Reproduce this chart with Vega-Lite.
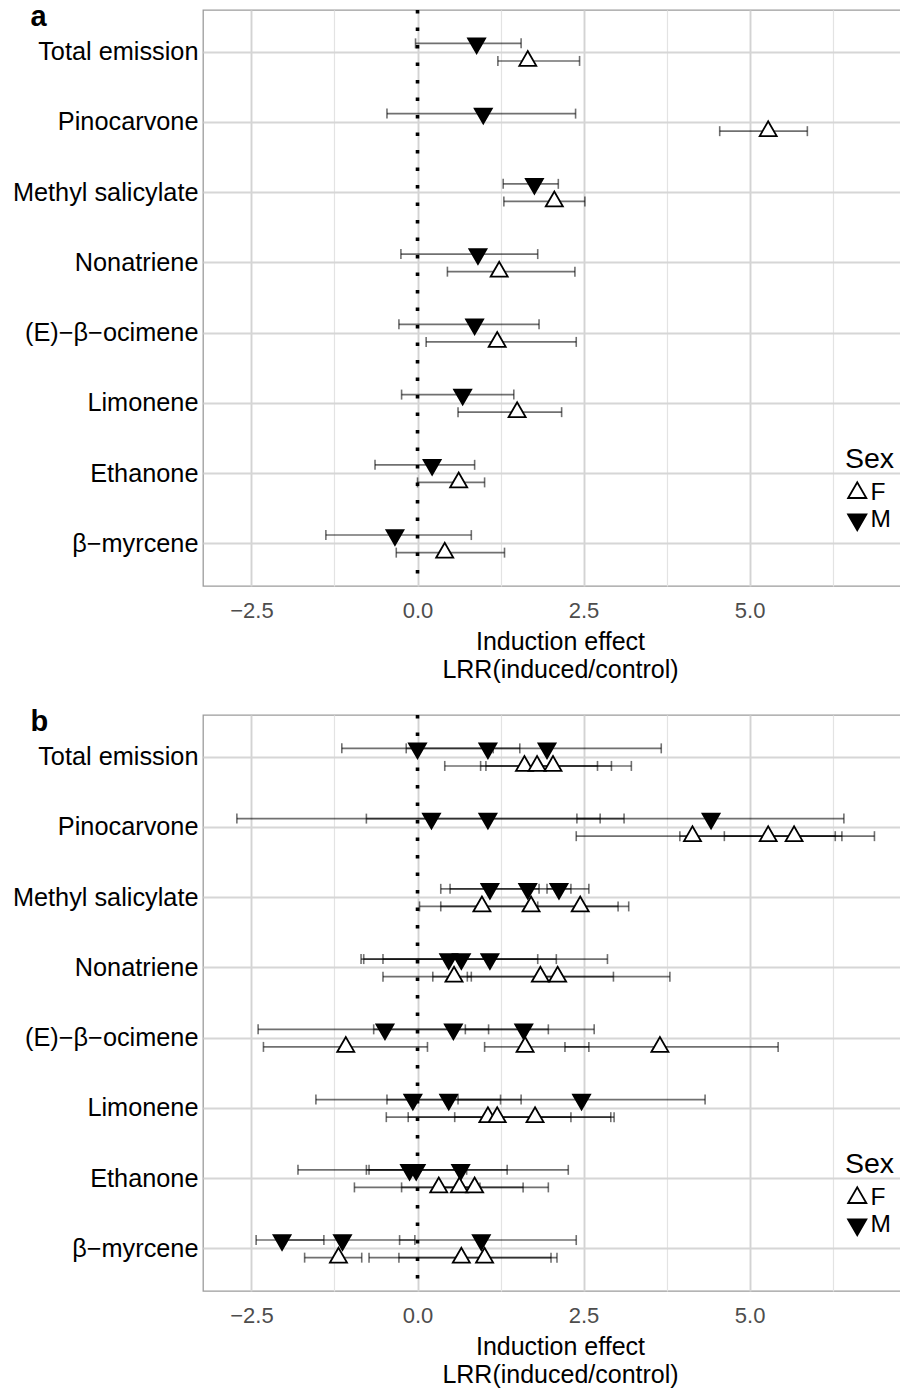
{
  "$schema": "https://vega.github.io/schema/vega-lite/v6.json",
  "background": "white",
  "padding": {"left": 11, "top": 1, "right": 0, "bottom": 0},
  "spacing": 23,
  "datasets": {
    "a": [
      {"compound": "Total emission", "sex": "M", "lrr": 0.89, "lo": -0.03, "hi": 1.56},
      {"compound": "Total emission", "sex": "F", "lrr": 1.66, "lo": 1.21, "hi": 2.44},
      {"compound": "Pinocarvone", "sex": "M", "lrr": 0.99, "lo": -0.46, "hi": 2.38},
      {"compound": "Pinocarvone", "sex": "F", "lrr": 5.28, "lo": 4.55, "hi": 5.87},
      {"compound": "Methyl salicylate", "sex": "M", "lrr": 1.76, "lo": 1.29, "hi": 2.12},
      {"compound": "Methyl salicylate", "sex": "F", "lrr": 2.06, "lo": 1.30, "hi": 2.52},
      {"compound": "Nonatriene", "sex": "M", "lrr": 0.91, "lo": -0.25, "hi": 1.81},
      {"compound": "Nonatriene", "sex": "F", "lrr": 1.23, "lo": 0.45, "hi": 2.37},
      {"compound": "(E)−β−ocimene", "sex": "M", "lrr": 0.86, "lo": -0.28, "hi": 1.83},
      {"compound": "(E)−β−ocimene", "sex": "F", "lrr": 1.20, "lo": 0.13, "hi": 2.39},
      {"compound": "Limonene", "sex": "M", "lrr": 0.68, "lo": -0.24, "hi": 1.45},
      {"compound": "Limonene", "sex": "F", "lrr": 1.50, "lo": 0.61, "hi": 2.17},
      {"compound": "Ethanone", "sex": "M", "lrr": 0.22, "lo": -0.64, "hi": 0.86},
      {"compound": "Ethanone", "sex": "F", "lrr": 0.62, "lo": 0.00, "hi": 1.01},
      {"compound": "β−myrcene", "sex": "M", "lrr": -0.34, "lo": -1.38, "hi": 0.81},
      {"compound": "β−myrcene", "sex": "F", "lrr": 0.41, "lo": -0.32, "hi": 1.31}
    ],
    "b": [
      {"compound": "Total emission", "sex": "M", "lrr": 0.00, "lo": -1.14, "hi": 1.14},
      {"compound": "Total emission", "sex": "M", "lrr": 1.06, "lo": -0.17, "hi": 1.54},
      {"compound": "Total emission", "sex": "M", "lrr": 1.95, "lo": 1.06, "hi": 3.67},
      {"compound": "Total emission", "sex": "F", "lrr": 1.61, "lo": 0.95, "hi": 2.71},
      {"compound": "Total emission", "sex": "F", "lrr": 1.80, "lo": 0.41, "hi": 3.22},
      {"compound": "Total emission", "sex": "F", "lrr": 2.04, "lo": 1.03, "hi": 2.92},
      {"compound": "Pinocarvone", "sex": "M", "lrr": 0.21, "lo": -2.72, "hi": 3.11},
      {"compound": "Pinocarvone", "sex": "M", "lrr": 1.06, "lo": -0.77, "hi": 2.75},
      {"compound": "Pinocarvone", "sex": "M", "lrr": 4.42, "lo": 2.40, "hi": 6.42},
      {"compound": "Pinocarvone", "sex": "F", "lrr": 4.14, "lo": 2.39, "hi": 6.29},
      {"compound": "Pinocarvone", "sex": "F", "lrr": 5.28, "lo": 3.95, "hi": 6.39},
      {"compound": "Pinocarvone", "sex": "F", "lrr": 5.67, "lo": 4.62, "hi": 6.88},
      {"compound": "Methyl salicylate", "sex": "M", "lrr": 1.09, "lo": 0.35, "hi": 1.83},
      {"compound": "Methyl salicylate", "sex": "M", "lrr": 1.66, "lo": 0.49, "hi": 2.58},
      {"compound": "Methyl salicylate", "sex": "M", "lrr": 2.13, "lo": 1.95, "hi": 2.31},
      {"compound": "Methyl salicylate", "sex": "F", "lrr": 0.97, "lo": 0.03, "hi": 1.81},
      {"compound": "Methyl salicylate", "sex": "F", "lrr": 1.71, "lo": 0.35, "hi": 3.02},
      {"compound": "Methyl salicylate", "sex": "F", "lrr": 2.45, "lo": 1.72, "hi": 3.18},
      {"compound": "Nonatriene", "sex": "M", "lrr": 0.47, "lo": -0.85, "hi": 1.81},
      {"compound": "Nonatriene", "sex": "M", "lrr": 0.66, "lo": -0.81, "hi": 2.09},
      {"compound": "Nonatriene", "sex": "M", "lrr": 1.09, "lo": -0.52, "hi": 2.86},
      {"compound": "Nonatriene", "sex": "F", "lrr": 0.55, "lo": -0.52, "hi": 0.81},
      {"compound": "Nonatriene", "sex": "F", "lrr": 1.85, "lo": 0.75, "hi": 2.95},
      {"compound": "Nonatriene", "sex": "F", "lrr": 2.11, "lo": 0.23, "hi": 3.80},
      {"compound": "(E)−β−ocimene", "sex": "M", "lrr": -0.49, "lo": -2.40, "hi": 1.07},
      {"compound": "(E)−β−ocimene", "sex": "M", "lrr": 0.54, "lo": -0.66, "hi": 1.97},
      {"compound": "(E)−β−ocimene", "sex": "M", "lrr": 1.60, "lo": 0.72, "hi": 2.66},
      {"compound": "(E)−β−ocimene", "sex": "F", "lrr": -1.08, "lo": -2.32, "hi": 0.15},
      {"compound": "(E)−β−ocimene", "sex": "F", "lrr": 1.62, "lo": 1.01, "hi": 2.58},
      {"compound": "(E)−β−ocimene", "sex": "F", "lrr": 3.65, "lo": 2.22, "hi": 5.43},
      {"compound": "Limonene", "sex": "M", "lrr": -0.07, "lo": -1.53, "hi": 1.25},
      {"compound": "Limonene", "sex": "M", "lrr": 0.47, "lo": -0.46, "hi": 1.56},
      {"compound": "Limonene", "sex": "M", "lrr": 2.47, "lo": 0.61, "hi": 4.33},
      {"compound": "Limonene", "sex": "F", "lrr": 1.06, "lo": -0.14, "hi": 2.31},
      {"compound": "Limonene", "sex": "F", "lrr": 1.20, "lo": -0.47, "hi": 2.91},
      {"compound": "Limonene", "sex": "F", "lrr": 1.77, "lo": 0.56, "hi": 2.96},
      {"compound": "Ethanone", "sex": "M", "lrr": -0.12, "lo": -1.80, "hi": 1.35},
      {"compound": "Ethanone", "sex": "M", "lrr": -0.02, "lo": -0.73, "hi": 0.74},
      {"compound": "Ethanone", "sex": "M", "lrr": 0.65, "lo": -0.77, "hi": 2.27},
      {"compound": "Ethanone", "sex": "F", "lrr": 0.32, "lo": -0.95, "hi": 1.59},
      {"compound": "Ethanone", "sex": "F", "lrr": 0.63, "lo": 0.32, "hi": 0.94},
      {"compound": "Ethanone", "sex": "F", "lrr": 0.86, "lo": -0.24, "hi": 1.97},
      {"compound": "β−myrcene", "sex": "M", "lrr": -2.04, "lo": -2.43, "hi": -1.41},
      {"compound": "β−myrcene", "sex": "M", "lrr": -1.13, "lo": -1.99, "hi": -0.04},
      {"compound": "β−myrcene", "sex": "M", "lrr": 0.96, "lo": -0.27, "hi": 2.39},
      {"compound": "β−myrcene", "sex": "F", "lrr": -1.19, "lo": -1.70, "hi": -0.84},
      {"compound": "β−myrcene", "sex": "F", "lrr": 0.66, "lo": -0.73, "hi": 2.01},
      {"compound": "β−myrcene", "sex": "F", "lrr": 1.01, "lo": -0.28, "hi": 2.10}
    ]
  },
  "resolve": {
    "scale": {"shape": "independent", "fill": "independent", "stroke": "independent"},
    "legend": {"shape": "independent", "fill": "independent", "stroke": "independent"}
  },
  "vconcat": [
    {
      "width": 700, "height": 576,
      "data": {"name": "a"},
      "layer": [
        {"mark": {"type": "rule", "color": "black", "opacity": 0.56, "strokeWidth": 1.6},
         "encoding": {
           "x": {"field": "lo", "type": "quantitative", "title": ["Induction effect", "LRR(induced/control)"],
                 "scale": {"domain": [-3.23, 7.31], "nice": false, "zero": false},
                 "axis": {"values": [-2.5, -1.25, 0, 1.25, 2.5, 3.75, 5, 6.25], "format": ".1f",
                          "labelExpr": "abs(datum.value) % 2.5 < 0.001 ? datum.label : ''",
                          "grid": true,
                          "gridColor": {"condition": {"test": "abs(datum.value) % 2.5 < 0.001", "value": "#d3d3d3"}, "value": "#e3e3e3"},
                          "gridWidth": {"condition": {"test": "abs(datum.value) % 2.5 < 0.001", "value": 1.9}, "value": 1.2}}},
           "x2": {"field": "hi"},
           "y": {"field": "compound", "type": "nominal", "title": "a",
                 "scale": {"domain": ["Total emission", "Pinocarvone", "Methyl salicylate", "Nonatriene", "(E)−β−ocimene", "Limonene", "Ethanone", "β−myrcene"], "paddingInner": 0, "paddingOuter": 0.1},
                 "axis": {"grid": true}},
           "yOffset": {"field": "sex", "type": "nominal", "scale": {"domain": ["M", "F"], "paddingInner": 0, "paddingOuter": 1}}
         }},
        {"mark": {"type": "tick", "color": "black", "opacity": 0.56, "thickness": 1.6, "size": 10},
         "encoding": {
           "x": {"field": "lo", "type": "quantitative", "title": ["Induction effect", "LRR(induced/control)"]},
           "y": {"field": "compound", "type": "nominal", "title": "a"},
           "yOffset": {"field": "sex", "type": "nominal"}
         }},
        {"mark": {"type": "tick", "color": "black", "opacity": 0.56, "thickness": 1.6, "size": 10},
         "encoding": {
           "x": {"field": "hi", "type": "quantitative", "title": ["Induction effect", "LRR(induced/control)"]},
           "y": {"field": "compound", "type": "nominal", "title": "a"},
           "yOffset": {"field": "sex", "type": "nominal"}
         }},
        {"data": {"values": [{}]},
         "mark": {"type": "rule", "color": "black", "strokeWidth": 3.6, "strokeDash": [3.6, 13.9]},
         "encoding": {"x": {"datum": 0, "title": ["Induction effect", "LRR(induced/control)"]}}},
        {"mark": {"type": "point", "filled": true, "strokeWidth": 1.8, "size": 289, "opacity": 1},
         "encoding": {
           "x": {"field": "lrr", "type": "quantitative", "title": ["Induction effect", "LRR(induced/control)"]},
           "y": {"field": "compound", "type": "nominal", "title": "a"},
           "yOffset": {"field": "sex", "type": "nominal"},
           "shape": {"field": "sex", "type": "nominal", "title": "Sex",
                     "scale": {"domain": ["F", "M"], "range": ["M-1,0.577L0,-1.155L1,0.577Z", "M-1,-0.577L0,1.155L1,-0.577Z"]}},
           "fill": {"field": "sex", "type": "nominal", "title": "Sex",
                    "scale": {"domain": ["F", "M"], "range": ["white", "black"]}},
           "stroke": {"field": "sex", "type": "nominal", "title": "Sex",
                      "scale": {"domain": ["F", "M"], "range": ["black", "black"]}}
         }}
      ]
    },
    {
      "width": 700, "height": 576,
      "data": {"name": "b"},
      "layer": [
        {"mark": {"type": "rule", "color": "black", "opacity": 0.56, "strokeWidth": 1.6},
         "encoding": {
           "x": {"field": "lo", "type": "quantitative", "title": ["Induction effect", "LRR(induced/control)"],
                 "scale": {"domain": [-3.23, 7.31], "nice": false, "zero": false},
                 "axis": {"values": [-2.5, -1.25, 0, 1.25, 2.5, 3.75, 5, 6.25], "format": ".1f",
                          "labelExpr": "abs(datum.value) % 2.5 < 0.001 ? datum.label : ''",
                          "grid": true,
                          "gridColor": {"condition": {"test": "abs(datum.value) % 2.5 < 0.001", "value": "#d3d3d3"}, "value": "#e3e3e3"},
                          "gridWidth": {"condition": {"test": "abs(datum.value) % 2.5 < 0.001", "value": 1.9}, "value": 1.2}}},
           "x2": {"field": "hi"},
           "y": {"field": "compound", "type": "nominal", "title": "b",
                 "scale": {"domain": ["Total emission", "Pinocarvone", "Methyl salicylate", "Nonatriene", "(E)−β−ocimene", "Limonene", "Ethanone", "β−myrcene"], "paddingInner": 0, "paddingOuter": 0.1},
                 "axis": {"grid": true}},
           "yOffset": {"field": "sex", "type": "nominal", "scale": {"domain": ["M", "F"], "paddingInner": 0, "paddingOuter": 1}}
         }},
        {"mark": {"type": "tick", "color": "black", "opacity": 0.56, "thickness": 1.6, "size": 10},
         "encoding": {
           "x": {"field": "lo", "type": "quantitative", "title": ["Induction effect", "LRR(induced/control)"]},
           "y": {"field": "compound", "type": "nominal", "title": "b"},
           "yOffset": {"field": "sex", "type": "nominal"}
         }},
        {"mark": {"type": "tick", "color": "black", "opacity": 0.56, "thickness": 1.6, "size": 10},
         "encoding": {
           "x": {"field": "hi", "type": "quantitative", "title": ["Induction effect", "LRR(induced/control)"]},
           "y": {"field": "compound", "type": "nominal", "title": "b"},
           "yOffset": {"field": "sex", "type": "nominal"}
         }},
        {"data": {"values": [{}]},
         "mark": {"type": "rule", "color": "black", "strokeWidth": 3.6, "strokeDash": [3.6, 13.9]},
         "encoding": {"x": {"datum": 0, "title": ["Induction effect", "LRR(induced/control)"]}}},
        {"mark": {"type": "point", "filled": true, "strokeWidth": 1.8, "size": 289, "opacity": 1},
         "encoding": {
           "x": {"field": "lrr", "type": "quantitative", "title": ["Induction effect", "LRR(induced/control)"]},
           "y": {"field": "compound", "type": "nominal", "title": "b"},
           "yOffset": {"field": "sex", "type": "nominal"},
           "shape": {"field": "sex", "type": "nominal", "title": "Sex",
                     "scale": {"domain": ["F", "M"], "range": ["M-1,0.577L0,-1.155L1,0.577Z", "M-1,-0.577L0,1.155L1,-0.577Z"]}},
           "fill": {"field": "sex", "type": "nominal", "title": "Sex",
                    "scale": {"domain": ["F", "M"], "range": ["white", "black"]}},
           "stroke": {"field": "sex", "type": "nominal", "title": "Sex",
                      "scale": {"domain": ["F", "M"], "range": ["black", "black"]}}
         }}
      ]
    }
  ],
  "config": {
    "font": "Liberation Sans",
    "view": {"stroke": "#9c9c9c", "strokeWidth": 1.3},
    "axis": {"domain": false, "ticks": false, "labelOverlap": false},
    "axisX": {
      "labelFontSize": 22, "labelColor": "#4d4d4d", "labelPadding": 14, "labelFlush": false,
      "titleFont": "Liberation Sans", "titleFontSize": 25, "titleFontWeight": "normal", "titleColor": "black",
      "titleX": 357, "titleY": 63, "titleAlign": "center", "titleBaseline": "alphabetic", "titleLineHeight": 28
    },
    "axisY": {
      "gridColor": "#d6d6d6", "gridWidth": 1.8,
      "labelFontSize": 25.3, "labelColor": "black", "labelPadding": 5, "labelLimit": 400,
      "titleAngle": 0, "titleFontSize": 29, "titleFontWeight": "bold", "titleColor": "black",
      "titleX": -173, "titleY": 15, "titleAlign": "left", "titleBaseline": "alphabetic"
    },
    "legend": {
      "orient": "none", "legendX": 642, "legendY": 435,
      "titleFontSize": 28.5, "titleFontWeight": "normal", "titleColor": "black",
      "labelFontSize": 24.5, "labelColor": "black",
      "symbolSize": 330, "symbolStrokeColor": "black", "symbolStrokeWidth": 1.8,
      "titlePadding": 7, "labelOffset": 1, "padding": 0
    }
  }
}
